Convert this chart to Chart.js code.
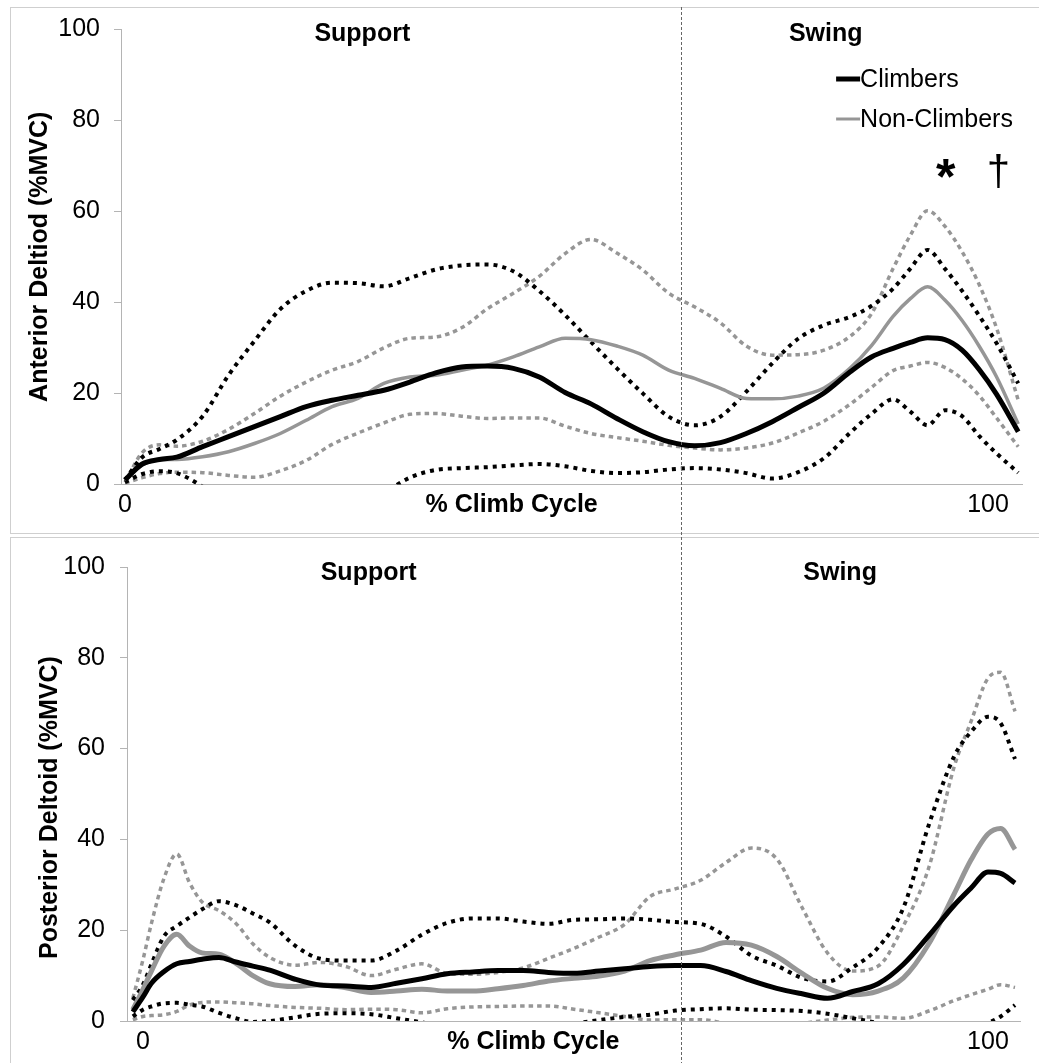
<!DOCTYPE html>
<html>
<head>
<meta charset="utf-8">
<script src="https://cdn.jsdelivr.net/npm/chart.js@4.4.1/dist/chart.umd.min.js"></script>
<style>
  html, body { margin: 0; padding: 0; background: #fff; overflow: hidden; }
  body { width: 1039px; height: 1063px; position: relative; }
  .box { position: absolute; left: 10px; width: 1040px; border: 1px solid #cfcfcf; }
  #boxTop { top: 7px; height: 525px; }
  #boxBot { top: 537px; height: 540px; }
  canvas { position: absolute; left: 0; }
  #anterior { top: 0; }
  #posterior { top: 537px; }
</style>
</head>
<body>
<div class="box" id="boxTop"></div>
<div class="box" id="boxBot"></div>
<canvas id="anterior" width="1039" height="537"></canvas>
<canvas id="posterior" width="1039" height="526"></canvas>
<script>
// tick labels
const yTicks = [0, 20, 40, 60, 80, 100];
const xTicks = [0, 100];

// anterior deltoid (top panel), % climb cycle vs %MVC
const antCycle = [0, 2, 4, 6, 9, 12, 15, 18, 21, 24, 27, 30, 33, 36, 39, 42, 45, 48, 51, 54,
  57, 60, 63, 66, 69, 72, 75, 78, 81, 84, 86.5, 89, 91, 93, 95, 97, 99, 101, 103.5];
const antClimbers = [1, 4.5, 5.5, 6.0, 8.3, 10.5, 12.7, 14.9, 17.1, 18.5, 19.6, 20.7, 22.5, 24.5, 25.8, 26.0, 25.5, 23.6, 20.2, 17.7,
  14.5, 11.6, 9.4, 8.5, 9.2, 11.2, 13.8, 16.9, 20.1, 24.7, 28.0, 29.9, 31.2, 32.2, 31.8, 29.5, 25.2, 19.8, 11.6];
const antNonClimbers = [1, 4.3, 5.4, 5.5, 6.1, 7.2, 9.0, 11.2, 14.1, 17.1, 18.9, 22.2, 23.6, 24.0, 25.1, 26.2, 28.0, 30.2, 32.1, 31.8,
  30.4, 28.4, 25.1, 23.3, 21.1, 18.9, 18.8, 19.4, 21.2, 25.5, 30.5, 36.9, 40.8, 43.4, 40.5, 36.0, 30.3, 23.6, 13.3];
const antClimbersHi = [1, 6, 7.8, 9.8, 15, 24, 31.5, 38.5, 42.5, 44.3, 44.2, 43.5, 45.3, 47.2, 48.1, 48.3, 46.8, 42.5, 37.2, 31.3,
  25.5, 20, 14.9, 13, 14.9, 20.4, 26.6, 32, 35, 36.8, 39.2, 43, 47.4, 51.5, 47.4, 42.5, 37, 31, 22.2];
const antClimbersLo = [0.5, 2.3, 2.9, 2.5, -0.5, -5, -9, -11, -11, -9, -6, -2, 1.5, 3.2, 3.6, 3.8, 4.2, 4.5, 4, 3,
  2.5, 2.7, 3.3, 3.6, 3.3, 2.5, 1.3, 2.7, 5.8, 11.3, 15.5, 18.7, 16, 13, 16.3, 15, 10.6, 6.8, 2.6];
const antNonHi = [0.5, 7, 8.7, 8.4, 9.5, 12.1, 15.6, 19.4, 22.5, 25.1, 27, 30, 32.1, 32.4, 34.4, 38.6, 42, 45.7, 50.7, 53.8,
  50.8, 47.1, 42, 39, 35.5, 30.4, 28.4, 28.5, 29.5, 32.5, 37.5, 47.4, 54.7, 60.1, 56.7, 51.1, 43.8, 34.3, 18.5];
const antNonLo = [0.3, 1.5, 2.4, 2.7, 2.6, 2.0, 1.6, 3.0, 5.3, 8.8, 11.3, 13.5, 15.4, 15.6, 15.0, 14.5, 14.6, 14.6, 12.8, 11.2,
  10.3, 9.5, 8.6, 8.0, 7.6, 8.0, 9.1, 11.3, 13.9, 17.6, 21.3, 25, 26, 26.8, 25.7, 23.2, 19.5, 14.6, 8.3];

// posterior deltoid (bottom panel)
const postCycle = [-1.2, 0, 1, 2.5, 4, 5.5, 7, 9, 11, 13, 15, 18, 21, 24, 27, 30, 33, 36, 39, 42,
  45, 48, 51, 54, 57, 60, 63, 66, 69, 72, 75, 78, 81, 84, 87, 90, 93, 96, 98, 100, 101.5, 103.2];
const postClimbers = [2, 5.3, 8.3, 10.9, 12.6, 13.1, 13.6, 14, 13, 12.1, 11.2, 9.2, 7.9, 7.7, 7.4, 8.3, 9.3, 10.4, 10.8, 11.1,
  11.1, 10.7, 10.5, 11, 11.5, 12, 12.2, 12.2, 10.9, 8.9, 7.2, 6, 5, 6.5, 8.2, 12.5, 18.8, 25.5, 29.3, 32.8, 32.5, 30.4];
const postNonClimbers = [2.5, 7, 11, 16.5, 19.1, 16.5, 15, 14.7, 12.7, 10, 8.2, 7.6, 8, 7.3, 6.3, 6.6, 7.0, 6.6, 6.6, 7.1,
  7.8, 8.8, 9.4, 9.9, 11, 13.3, 14.6, 15.6, 17.3, 16.7, 14.2, 10.5, 7.2, 5.8, 6.6, 9.5, 17, 28, 35.5, 41.2, 42.4, 37.8];
const postClimbersHi = [4.6, 8, 12.5, 18.7, 20.9, 22.8, 24.6, 26.4, 25.5, 23.7, 21.7, 16.6, 13.7, 13.3, 13.3, 15.5, 19, 21.6, 22.6, 22.6,
  21.9, 21.4, 22.3, 22.4, 22.6, 22.3, 21.8, 21.4, 18.6, 14.4, 12.2, 9.5, 8.7, 11.8, 16.2, 25, 43.2, 58.3, 63.7, 67, 65.6, 57.7];
const postClimbersLo = [1, 2.5, 3.2, 3.9, 4, 3.6, 3.2, 1.8, 0.6, -0.2, 0, 0.8, 1.6, 1.7, 1.5, 0.6, -0.3, -1.5, -2, -2,
  -2, -1.5, -0.6, 0.2, 0.9, 1.4, 2.3, 2.6, 2.8, 2.5, 2.4, 2.2, 1.6, 0.6, -0.5, -2, -3, -3, -2.5, -0.5, 1.0, 3.5];
const postNonHi = [5, 13.5, 21.5, 31.5, 36.8, 30.5, 26.2, 24.3, 21.5, 17, 14, 12.3, 12.9, 12, 10, 11.4, 12.6, 10.5, 10.3, 10.7,
  11.7, 13.8, 16, 18.5, 21.3, 27.4, 29.1, 31, 34.9, 38.1, 35.7, 25, 15, 11, 12.1, 21, 33.8, 56, 66, 75.5, 76.8, 68.2];
const postNonLo = [0.3, 1, 1.2, 1.4, 2.1, 3.5, 4.1, 4.2, 4, 3.8, 3.4, 3, 2.8, 2.5, 2.6, 2.5, 1.8, 2.7, 3.1, 3.2,
  3.3, 3.3, 2.6, 1.8, 1.0, 0.2, 0.3, 0.3, -0.5, -1, -1, -0.5, 0.2, 0.8, 0.9, 0.6, 2.2, 4.5, 5.8, 7, 8, 7.4];

const BLACK = '#000000';
const GRAY = '#969696';
const AXIS = '#b4b4b4';
const FAMILY = '"Liberation Sans", Arial, sans-serif';

// texts, phase line, legend and significance marks
const panelDecor = {
  id: 'panelDecor',
  afterDatasetsDraw(chart, args, o) {
    const { ctx, chartArea: area, scales: { x, y } } = chart;
    ctx.save();

    // support / swing boundary, runs through the whole panel
    const sx = Math.round(x.getPixelForValue(o.swingAt)) + 0.5;
    ctx.strokeStyle = '#666';
    ctx.lineWidth = 1;
    ctx.setLineDash([3, 2]);
    ctx.beginPath();
    ctx.moveTo(sx, o.lineTop);
    ctx.lineTo(sx, chart.height);
    ctx.stroke();
    ctx.setLineDash([]);

    ctx.fillStyle = '#000';
    ctx.textAlign = 'center';
    ctx.font = 'bold 25px ' + FAMILY;
    ctx.textBaseline = 'alphabetic';
    o.phases.forEach(p => ctx.fillText(p.text, x.getPixelForValue(p.at), y.getPixelForValue(o.phaseY)));

    // x title sits on the tick label row
    ctx.textBaseline = 'middle';
    ctx.fillText('% Climb Cycle', x.getPixelForValue(o.xTitleAt), area.bottom + 21);

    ctx.save();
    ctx.translate(o.yTitleX, y.getPixelForValue(o.yTitleAt));
    ctx.rotate(-Math.PI / 2);
    ctx.fillText(o.yTitle, 0, 0);
    ctx.restore();

    if (o.legend) {
      const lx = x.getPixelForValue(o.legend.x);
      const ly = y.getPixelForValue(o.legend.y);
      ctx.font = '25px ' + FAMILY;
      ctx.textAlign = 'left';
      o.legend.items.forEach((di, i) => {
        const ds = chart.data.datasets[di];
        const yy = Math.round(ly + i * 40);
        ctx.strokeStyle = ds.borderColor;
        ctx.lineWidth = o.legend.widths[i];
        ctx.beginPath();
        ctx.moveTo(lx, yy);
        ctx.lineTo(lx + 24, yy);
        ctx.stroke();
        ctx.fillText(ds.label, lx + 24, yy + 1);
      });
    }

    if (o.marks) {
      ctx.textAlign = 'center';
      ctx.textBaseline = 'alphabetic';
      o.marks.forEach(m => {
        ctx.font = m.font + ' ' + FAMILY;
        ctx.fillText(m.text, x.getPixelForValue(m.at), y.getPixelForValue(m.y));
      });
    }
    ctx.restore();
  }
};

function makeSets(cycle, s, grayMeanWidth) {
  const pts = ys => ys.map((v, i) => ({ x: cycle[i], y: v }));
  const base = { pointRadius: 0, cubicInterpolationMode: 'monotone', borderCapStyle: 'butt', borderJoinStyle: 'round', fill: false };
  return [
    { ...base, label: 'Climbers', data: pts(s.climbers), borderColor: BLACK, borderWidth: 5 },
    { ...base, label: 'Non-Climbers', data: pts(s.non), borderColor: GRAY, borderWidth: grayMeanWidth },
    { ...base, label: 'Climbers +SD', data: pts(s.climbersHi), borderColor: BLACK, borderWidth: 4, borderDash: [4, 5] },
    { ...base, label: 'Climbers -SD', data: pts(s.climbersLo), borderColor: BLACK, borderWidth: 4, borderDash: [4, 5] },
    { ...base, label: 'Non-Climbers +SD', data: pts(s.nonHi), borderColor: GRAY, borderWidth: 3.5, borderDash: [4.5, 4] },
    { ...base, label: 'Non-Climbers -SD', data: pts(s.nonLo), borderColor: GRAY, borderWidth: 3.5, borderDash: [4.5, 4] }
  ];
}

function makeChart(id, datasets, o) {
  return new Chart(document.getElementById(id), {
    type: 'line',
    data: { datasets },
    options: {
      responsive: false,
      animation: false,
      events: [],
      layout: { padding: { left: 0, top: o.padTop, right: o.padRight, bottom: 0 } },
      scales: {
        x: {
          type: 'linear', min: o.xMin, max: o.xMax,
          afterBuildTicks: sc => { sc.ticks = xTicks.map(v => ({ value: v })); },
          afterFit: sc => { sc.height = o.xHeight; },
          grid: { display: false, drawTicks: false },
          border: { display: true, color: AXIS, width: 1 },
          ticks: { padding: 6, color: '#000', font: { family: FAMILY, size: 25 }, maxRotation: 0, autoSkip: false }
        },
        y: {
          min: 0, max: 100,
          afterBuildTicks: sc => { sc.ticks = yTicks.map(v => ({ value: v })); },
          afterFit: sc => { sc.width = o.yWidth; },
          grid: { drawOnChartArea: false, drawTicks: true, tickLength: 7, color: AXIS },
          border: { display: true, color: AXIS, width: 1 },
          ticks: { padding: o.yPad, color: '#000', font: { family: FAMILY, size: 25 } }
        }
      },
      plugins: { legend: { display: false }, tooltip: { enabled: false }, panelDecor: o.decor }
    },
    plugins: [panelDecor]
  });
}

makeChart('anterior', makeSets(antCycle, {
  climbers: antClimbers, non: antNonClimbers,
  climbersHi: antClimbersHi, climbersLo: antClimbersLo,
  nonHi: antNonHi, nonLo: antNonLo
}, 3.5), {
  padTop: 28.5, padRight: 17, xHeight: 52.5, yWidth: 121, yPad: 14,
  xMin: -0.46, xMax: 103.94,
  decor: {
    swingAt: 64.4, lineTop: 7,
    phases: [{ text: 'Support', at: 27.5 }, { text: 'Swing', at: 81.2 }], phaseY: 97.3,
    xTitleAt: 44.8,
    yTitle: 'Anterior Deltiod (%MVC)', yTitleX: 40, yTitleAt: 50,
    legend: { x: 82.4, y: 89, items: [0, 1], widths: [5, 3] },
    marks: [
      { text: '*', at: 95.1, y: 63.8, font: 'bold 50px' },
      { text: '\u2020', at: 101.2, y: 65.7, font: '42px' }
    ]
  }
});

makeChart('posterior', makeSets(postCycle, {
  climbers: postClimbers, non: postNonClimbers,
  climbersHi: postClimbersHi, climbersLo: postClimbersLo,
  nonHi: postNonHi, nonLo: postNonLo
}, 5), {
  padTop: 23, padRight: 19, xHeight: 42, yWidth: 127, yPad: 15,
  xMin: -1.89, xMax: 103.79,
  decor: {
    swingAt: 63.7, lineTop: 0,
    phases: [{ text: 'Support', at: 26.7 }, { text: 'Swing', at: 82.5 }], phaseY: 97.2,
    xTitleAt: 46.2,
    yTitle: 'Posterior Deltoid (%MVC)', yTitleX: 50, yTitleAt: 47
  }
});
</script>
</body>
</html>
